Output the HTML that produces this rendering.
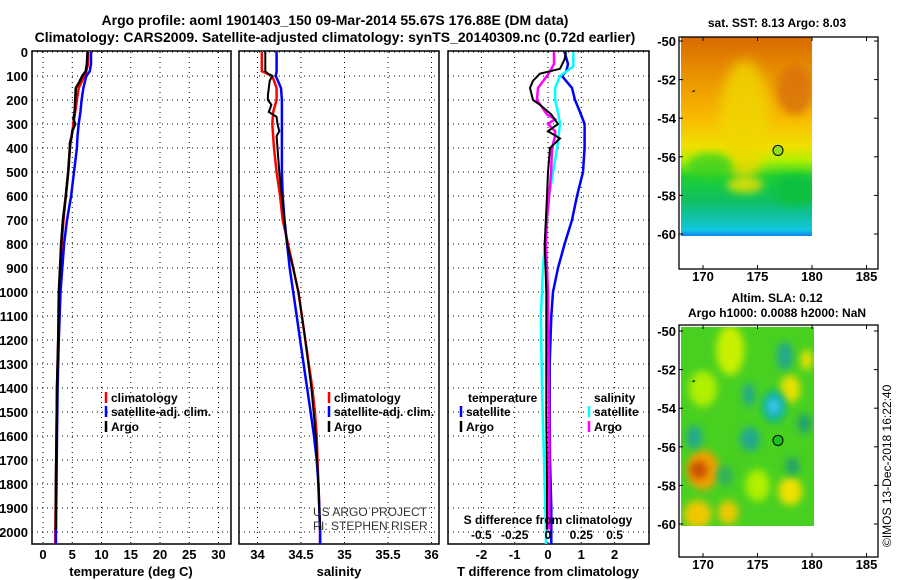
<!DOCTYPE html>
<html><head><meta charset="utf-8"><style>
html,body{margin:0;padding:0;background:#fff;}
svg{display:block;font-family:"Liberation Sans",Arial,sans-serif;font-weight:bold;}
</style></head><body>
<svg id="chart" width="900" height="580" viewBox="0 0 900 580">
<defs>
<linearGradient id="sstg" x1="0" y1="0" x2="0" y2="1">
<stop offset="0" stop-color="#d86a00"/><stop offset="0.18" stop-color="#e89000"/><stop offset="0.4" stop-color="#f8b800"/>
<stop offset="0.55" stop-color="#f0e000"/><stop offset="0.62" stop-color="#b0f000"/><stop offset="0.7" stop-color="#20d030"/>
<stop offset="0.82" stop-color="#10c060"/><stop offset="0.9" stop-color="#10c0a0"/><stop offset="0.97" stop-color="#10c8e0"/><stop offset="1" stop-color="#1080f0"/>
</linearGradient>
<filter id="blur4" x="-50%" y="-50%" width="200%" height="200%"><feGaussianBlur stdDeviation="4"/></filter>
<filter id="blur6" x="-50%" y="-50%" width="200%" height="200%"><feGaussianBlur stdDeviation="6"/></filter>
<clipPath id="clip1"><rect x="681" y="37" width="131" height="199"/></clipPath>
<clipPath id="clip2"><rect x="681" y="327" width="133" height="199"/></clipPath>
</defs>
<text x="335" y="25" text-anchor="middle" font-size="14">Argo profile: aoml 1901403_150 09-Mar-2014 55.67S 176.88E (DM data)</text>
<text x="335" y="42" text-anchor="middle" font-size="14">Climatology: CARS2009. Satellite-adjusted climatology: synTS_20140309.nc (0.72d earlier)</text>
<g id="p1"></g>
<g id="p2"></g>
<g id="p3"></g>
<g id="maps"></g>
</svg>
<script>
// ---- data ----
const depthTicks=[0,100,200,300,400,500,600,700,800,900,1000,1100,1200,1300,1400,1500,1600,1700,1800,1900,2000];
const tempTicks=[0,5,10,15,20,25,30];
const salTicks=[34,34.5,35,35.5,36];
const salTickLabels=["34","34.5","35","35.5","36"];
const dTTicks=[-2,-1,0,1,2];
const dSTicks=[-0.5,-0.25,0,0.25,0.5];
const dSTickLabels=["-0.5","-0.25","0","0.25","0.5"];

const tDepth=[0,50,80,100,150,200,250,300,350,400,500,600,700,800,900,1000,1200,1400,1600,1800,2000,2050];
const tClim=[7.7,7.7,7.4,7.1,6.1,5.8,5.5,5.2,4.9,4.6,4.3,3.9,3.5,3.2,3.0,2.8,2.6,2.4,2.3,2.2,2.1,2.1];
const tSat=[8.2,8.2,8.0,7.4,6.9,6.6,6.4,6.1,5.9,5.8,5.3,4.8,4.1,3.6,3.3,3.0,2.7,2.5,2.4,2.3,2.2,2.2];
const tArgoDepth=[0,50,80,100,130,150,200,250,280,300,330,350,380,400,500,600,700,800,900,1000,1200,1400,1600,1800,1990];
const tArgo=[7.6,7.5,7.3,6.7,6.1,5.6,5.5,5.4,5.2,5.5,5.0,4.9,4.6,4.6,4.3,3.9,3.4,3.1,2.9,2.7,2.6,2.4,2.3,2.2,2.2];

const sDepth=[0,80,100,150,200,250,300,400,500,600,700,800,900,1000,1100,1200,1300,1400,1500,1600,1700,1800,1900,2000,2050];
const sClim=[34.05,34.05,34.17,34.22,34.22,34.18,34.17,34.19,34.22,34.26,34.29,34.35,34.41,34.47,34.51,34.55,34.59,34.63,34.66,34.68,34.69,34.70,34.71,34.72,34.72];
const sSat=[34.22,34.22,34.21,34.27,34.28,34.28,34.28,34.28,34.28,34.29,34.31,34.34,34.37,34.41,34.45,34.49,34.53,34.57,34.61,34.65,34.68,34.70,34.71,34.72,34.72];
const sArgoDepth=[0,80,90,100,120,150,180,200,220,250,270,300,330,350,400,500,600,700,800,900,1000,1100,1200,1400,1600,1800,1990];
const sArgo=[34.09,34.09,34.12,34.17,34.14,34.13,34.12,34.12,34.16,34.13,34.22,34.23,34.25,34.22,34.23,34.25,34.28,34.31,34.34,34.41,34.47,34.51,34.55,34.62,34.67,34.70,34.72];

const dTSatDepth=[0,50,80,100,150,200,250,300,400,500,600,700,800,900,1000,1100,1300,1500,1700,1900,2000,2050];
const dTSat=[0.5,0.6,0.55,0.42,0.72,0.81,0.96,1.1,1.1,1.05,0.87,0.72,0.5,0.3,0.15,0.1,0.05,0.05,0.06,0.1,0.1,0.1];
const dTArgoDepth=[0,30,70,90,120,150,200,220,260,300,330,360,400,500,600,800,1000,1200,1500,1800,1990];
const dTArgo=[0.54,0.5,0.36,-0.24,-0.45,-0.54,-0.45,-0.24,0.1,0.3,0,0.36,0.06,0,-0.03,-0.1,-0.05,-0.05,-0.05,-0.03,-0.03];
const dSArgoDepth=[0,50,80,100,150,200,230,260,280,300,330,350,400,500,600,700,800,1000,1300,1600,1990];
const dSArgo=[0.045,0.045,0.015,-0.008,-0.075,-0.083,-0.045,-0.008,0.053,0,0.053,0.053,0.03,0.023,0.008,-0.008,-0.015,0,0.005,0.01,0.01];
const dSSatDepth=[0,60,100,150,200,250,300,400,500,600,700,800,900,1000,1100,1400,1700,2000,2050];
const dSSat=[0.19,0.19,0.09,0.053,0.053,0.075,0.09,0.068,0.038,0.008,-0.008,-0.023,-0.038,-0.045,-0.053,-0.045,-0.03,-0.015,-0.015];

const lonTicks=[170,175,180,185];
const latTicks=[-50,-52,-54,-56,-58,-60];
const floatLon=176.88, floatLat=-55.67;

// ---- helpers ----
const NS="http://www.w3.org/2000/svg";
function mk(parent,tag,attrs,txt){const e=document.createElementNS(NS,tag);for(const k in attrs)e.setAttribute(k,attrs[k]);if(txt!==undefined)e.textContent=txt;parent.appendChild(e);return e;}
const yD=d=>52+0.24*d;
const PT=532+12; // plot bottom
function panel(g,x0,x1,xs,ticks,labels,name){
  for(const d of depthTicks){const l=mk(g,'line',{x1:x0,x2:x1,y1:yD(d),y2:yD(d),stroke:'#000','stroke-width':1,'stroke-dasharray':'1,4'});
    
    }
  ticks.forEach((t,i)=>{const x=xs(t);const l=mk(g,'line',{x1:x,x2:x,y1:52,y2:PT,stroke:'#000','stroke-width':1,'stroke-dasharray':'1,4'});
    
    
    const tx=mk(g,'text',{x:x,y:PT+15,'text-anchor':'middle','font-size':13},labels[i]);
    
    });
  const r=mk(g,'rect',{x:x0,y:51,width:x1-x0,height:PT-51,fill:'none',stroke:'#000','stroke-width':1.5});
  
  
}
function series(g,dep,val,xs,color,w,name){
  const pts=dep.map((d,i)=>xs(val[i]).toFixed(1)+','+yD(d).toFixed(1)).join(' ');
  const p=mk(g,'polyline',{points:pts,fill:'none',stroke:color,'stroke-width':w,'stroke-linejoin':'miter'});
  
  
}
function legend(g,x,y,color,label,name){
  const m=mk(g,'line',{x1:x,x2:x,y1:y-10,y2:y+1,stroke:color,'stroke-width':2.5});
  
  
  const t=mk(g,'text',{x:x+5,y:y,'font-size':12,fill:'#000'},label);
  
  
}

// ---- panel 1 temperature ----
const p1=document.getElementById('p1');
const xT=t=>43+5.85*t;
panel(p1,32,231,xT,tempTicks,tempTicks.map(String),'temperature');
depthTicks.forEach(d=>{const t=mk(p1,'text',{x:28,y:yD(d)+5,'text-anchor':'end','font-size':13},String(d));
  
  });
series(p1,tDepth,tClim,xT,'#ff0000',2.5,'temp-climatology-line');
series(p1,tDepth,tSat,xT,'#0000ff',2.5,'temp-satellite-line');
series(p1,tArgoDepth,tArgo,xT,'#000',2.5,'temp-argo-line');
legend(p1,106,402,'#ff0000','climatology','legend-climatology');
legend(p1,106,416,'#0000ff','satellite-adj. clim.','legend-satellite');
legend(p1,106,431,'#000','Argo','legend-argo');
let t1=mk(p1,'text',{x:131,y:576,'text-anchor':'middle','font-size':13},'temperature (deg C)');


// ---- panel 2 salinity ----
const p2=document.getElementById('p2');
const xS=s=>257.5+87*(s-34);
panel(p2,239,439,xS,salTicks,salTickLabels,'salinity');
series(p2,sDepth,sClim,xS,'#ff0000',2.5,'sal-climatology-line');
series(p2,sDepth,sSat,xS,'#0000ff',2.5,'sal-satellite-line');
series(p2,sArgoDepth,sArgo,xS,'#000',2,'sal-argo-line');
legend(p2,329,402,'#ff0000','climatology','legend-climatology-2');
legend(p2,329,416,'#0000ff','satellite-adj. clim.','legend-satellite-2');
legend(p2,329,431,'#000','Argo','legend-argo-2');
let t2=mk(p2,'text',{x:339,y:576,'text-anchor':'middle','font-size':13},'salinity');

let c1=mk(p2,'text',{x:313,y:516,'font-size':12,'font-weight':'normal',fill:'#333'},'US ARGO PROJECT');

let c2=mk(p2,'text',{x:313,y:530,'font-size':12,'font-weight':'normal',fill:'#333'},'PI: STEPHEN RISER');


// ---- panel 3 differences ----
const p3=document.getElementById('p3');
const xdT=v=>548+33.3*v;
const xdS=v=>548+133.2*v;
panel(p3,448,649,xdT,dTTicks,dTTicks.map(String),'tdiff');
series(p3,dTSatDepth,dTSat,xdT,'#0000ff',2.5,'tdiff-satellite-line');
series(p3,dSSatDepth,dSSat,xdS,'#00ffff',2.5,'sdiff-satellite-line');
series(p3,dSArgoDepth,dSArgo,xdS,'#ff00ff',2.5,'sdiff-argo-line');
series(p3,dTArgoDepth,dTArgo,xdT,'#000',2,'tdiff-argo-line');
let lt=mk(p3,'text',{x:468,y:402,'font-size':12},'temperature');
legend(p3,461,416,'#0000ff','satellite','legend-t-satellite');
legend(p3,461,431,'#000','Argo','legend-t-argo');
let ls=mk(p3,'text',{x:594,y:402,'font-size':12},'salinity');
legend(p3,589,416,'#00ffff','satellite','legend-s-satellite');
legend(p3,589,431,'#ff00ff','Argo','legend-s-argo');
let sd=mk(p3,'text',{x:548,y:524,'text-anchor':'middle','font-size':12},'S difference from climatology');

dSTicks.forEach((v,i)=>{const t=mk(p3,'text',{x:xdS(v),y:539,'text-anchor':'middle','font-size':12},dSTickLabels[i]);
  
  });
let t3=mk(p3,'text',{x:548,y:576,'text-anchor':'middle','font-size':13},'T difference from climatology');


// ---- maps ----
const maps=document.getElementById('maps');
const mx=lon=>703+10.9*(lon-170);
function mapFrame(y0,name,top){
  const my=lat=>y0+19.3*(-50-lat);
  latTicks.forEach(l=>{
    const t=mk(maps,'text',{x:676,y:my(l)+5,'text-anchor':'end','font-size':13},String(l));
    
    
    mk(maps,'line',{x1:679,x2:683,y1:my(l),y2:my(l),stroke:'#000'});
    mk(maps,'line',{x1:874,x2:878,y1:my(l),y2:my(l),stroke:'#000'});});
  lonTicks.forEach(l=>{
    const t=mk(maps,'text',{x:mx(l),y:top+244,'text-anchor':'middle','font-size':13},String(l));
    
    
    mk(maps,'line',{x1:mx(l),x2:mx(l),y1:top,y2:top+4,stroke:'#000'});
    mk(maps,'line',{x1:mx(l),x2:mx(l),y1:top+228,y2:top+232,stroke:'#000'});});
  const r=mk(maps,'rect',{x:679,y:top,width:199,height:232,fill:'none',stroke:'#000','stroke-width':1.3});
  
  
  const c=mk(maps,'circle',{cx:mx(floatLon),cy:my(floatLat),r:5,fill:name==='sst-map'?'#90e020':'#20c020',stroke:'#000','stroke-width':1});
  
  
  mk(maps,'path',{d:`M${mx(169.2)-3},${my(-52.6)} l4,-1 l-1,2 z`,fill:'#000'});
}
// SST map image
const g1=mk(maps,'g',{'clip-path':'url(#clip1)'});

mk(g1,'rect',{x:681,y:37,width:131,height:199,fill:'url(#sstg)'});
mk(g1,'ellipse',{cx:745,cy:120,rx:25,ry:60,fill:'#f0d800',filter:'url(#blur6)',opacity:0.8});
mk(g1,'ellipse',{cx:795,cy:90,rx:18,ry:25,fill:'#d87010',filter:'url(#blur4)',opacity:0.8});
mk(g1,'ellipse',{cx:795,cy:190,rx:22,ry:15,fill:'#10c040',filter:'url(#blur4)'});
mk(g1,'ellipse',{cx:745,cy:185,rx:18,ry:8,fill:'#f0e000',filter:'url(#blur4)',opacity:0.8});
mk(g1,'ellipse',{cx:710,cy:165,rx:22,ry:12,fill:'#40d020',filter:'url(#blur4)',opacity:0.8});
mapFrame(41,'sst-map',37);
// SLA map image
const g2=mk(maps,'g',{'clip-path':'url(#clip2)'});

mk(g2,'rect',{x:681,y:327,width:133,height:199,fill:'#48d020'});
const yb=lat=>331+19.3*(-50-lat);
[[172.5,-51,'#c8f000',14,25],[178,-53,'#e8e000',10,14],[179.5,-51.5,'#f0e000',6,10],[170,-53,'#b0f000',14,18],
 [178,-58.3,'#f0e000',12,14],[169.5,-59.5,'#f0c800',14,14],[172.3,-59.4,'#f0c800',10,12],[175,-58,'#b0f000',12,16],
 [170,-57.2,'#f0a000',16,20],[169.6,-57.2,'#c85000',9,9],[176.5,-53.9,'#10b0a0',12,16],[176.5,-53.9,'#40c8f0',6,8],
 [174.3,-55.6,'#20a890',10,12],[169.2,-55.5,'#20a890',8,12],[174.2,-53.3,'#20a890',6,12],[177.5,-51.3,'#20a890',8,14],
 [179.3,-54.8,'#20a070',7,10],[178.2,-57.0,'#20a070',7,9],[172,-57.5,'#30b060',8,10]].forEach(b=>{
  mk(g2,'ellipse',{cx:mx(b[0]),cy:yb(b[1]),rx:b[3],ry:b[4],fill:b[2],filter:'url(#blur4)'});});
mapFrame(331,'sla-map',325);

const mt=[[777,27,'sat. SST: 8.13 Argo: 8.03','sst-map-title'],[777,302,'Altim. SLA: 0.12','sla-map-title'],[777,317,'Argo h1000: 0.0088 h2000: NaN','sla-map-subtitle']];
mt.forEach(m=>{const t=mk(maps,'text',{x:m[0],y:m[1],'text-anchor':'middle','font-size':12},m[2]);
  
  });
const cr=mk(maps,'text',{x:0,y:0,'font-size':12,'font-weight':'normal',transform:'translate(891,547) rotate(-90)'},'©IMOS 13-Dec-2018 16:22:40');


</script>
</body></html>
